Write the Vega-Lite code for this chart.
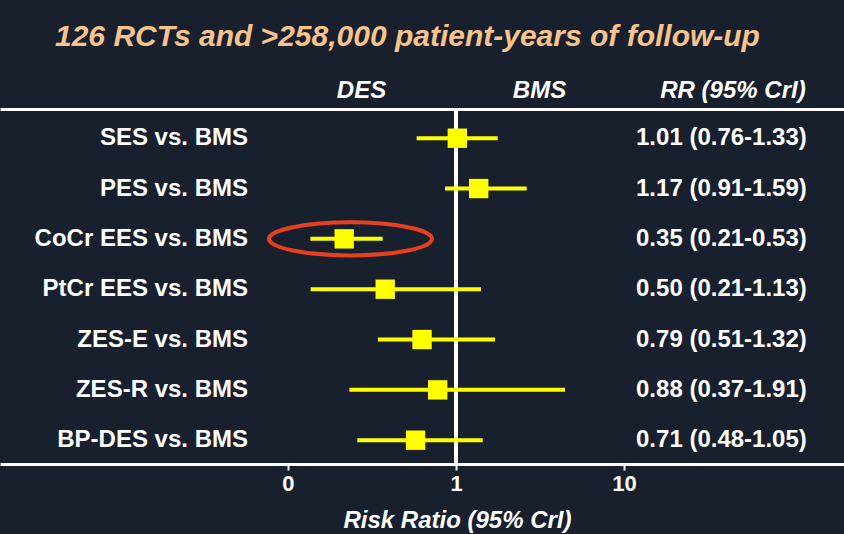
{
  "$schema": "https://vega.github.io/schema/vega-lite/v6.json",
  "width": 844,
  "height": 355,
  "autosize": {"type": "none"},
  "padding": {"top": 109, "bottom": 70, "left": 0, "right": 0},
  "background": "#18202e",
  "title": {
    "text": "126 RCTs and >258,000 patient-years of follow-up",
    "anchor": "start",
    "dx": 55,
    "offset": 26,
    "fontSize": 30,
    "fontStyle": "italic",
    "fontWeight": "bold",
    "color": "#f8c38c",
    "font": "Liberation Sans"
  },
  "config": {
    "view": {"stroke": null},
    "axis": {"grid": false},
    "axisBottom": {"labelFontSize": 22, "labelFontWeight": "bold"},
    "font": "Liberation Sans"
  },
  "data": {
    "values": [
      {"row": "SES vs. BMS", "est": 1.018, "lo": 0.583, "hi": 1.77, "rr": "1.01 (0.76-1.33)"},
      {"row": "PES vs. BMS", "est": 1.365, "lo": 0.86, "hi": 2.635, "rr": "1.17 (0.91-1.59)"},
      {"row": "CoCr EES vs. BMS", "est": 0.216, "lo": 0.136, "hi": 0.366, "rr": "0.35 (0.21-0.53)"},
      {"row": "PtCr EES vs. BMS", "est": 0.379, "lo": 0.1365, "hi": 1.409, "rr": "0.50 (0.21-1.13)"},
      {"row": "ZES-E vs. BMS", "est": 0.628, "lo": 0.343, "hi": 1.707, "rr": "0.79 (0.51-1.32)"},
      {"row": "ZES-R vs. BMS", "est": 0.778, "lo": 0.232, "hi": 4.455, "rr": "0.88 (0.37-1.91)"},
      {"row": "BP-DES vs. BMS", "est": 0.575, "lo": 0.2585, "hi": 1.442, "rr": "0.71 (0.48-1.05)"}
    ]
  },
  "resolve": {"axis": {"x": "independent"}},
  "layer": [
    {
      "mark": {"type": "rule", "color": "white", "strokeWidth": 4},
      "encoding": {
        "x": {"datum": 1, "type": "quantitative", "scale": {"type": "log", "domain": [0.001931, 203.9], "nice": false, "zero": false}, "axis": null}
      }
    },
    {
      "mark": {"type": "rule", "color": "#ffff00", "strokeWidth": 4},
      "encoding": {
        "y": {"field": "row", "type": "ordinal", "sort": null, "scale": {"type": "point", "padding": 0.5266, "align": 0.551}, "axis": null},
        "x": {
          "field": "lo", "type": "quantitative",
          "scale": {"type": "log", "domain": [0.001931, 203.9], "nice": false, "zero": false},
          "axis": {
            "orient": "bottom",
            "values": [0.1, 1, 10],
            "labelExpr": "datum.value < 0.5 ? '0' : datum.value < 5 ? '1' : '10'",
            "tickColor": "white",
            "tickWidth": 2,
            "tickSize": 6,
            "labelPadding": 20,
            "labelBaseline": "alphabetic",
            "labelFontSize": 22,
            "labelFontWeight": "bold",
            "labelColor": "white",
            "labelFlush": false,
            "labelOverlap": false,
            "domainColor": "white",
            "domainWidth": 3,
            "title": "Risk Ratio (95% CrI)",
            "titleFontSize": 24,
            "titleFontStyle": "italic",
            "titleFontWeight": "bold",
            "titleColor": "white",
            "titleX": 457,
            "titleY": 63,
            "titleBaseline": "alphabetic"
          }
        },
        "x2": {"field": "hi"}
      }
    },
    {
      "mark": {"type": "point", "shape": "square", "filled": true, "size": 375, "color": "#ffff00", "opacity": 1},
      "encoding": {
        "y": {"field": "row", "type": "ordinal", "sort": null, "axis": null},
        "x": {
          "field": "est", "type": "quantitative",
          "scale": {"type": "log", "domain": [0.001931, 203.9], "nice": false, "zero": false},
          "axis": {
            "orient": "top",
            "values": [0.272, 3.12, 44.2],
            "labelExpr": "datum.value < 1 ? 'DES' : datum.value < 10 ? 'BMS' : 'RR  (95% CrI)'",
            "ticks": false,
            "tickSize": 0,
            "labelPadding": 12,
            "labelBaseline": "alphabetic",
            "labelFontSize": 24,
            "labelFontStyle": "italic",
            "labelFontWeight": "bold",
            "labelColor": "white",
            "labelFlush": false,
            "labelOverlap": false,
            "domainColor": "white",
            "domainWidth": 3,
            "title": null
          }
        }
      }
    },
    {
      "mark": {"type": "text", "align": "right", "baseline": "middle", "fontSize": 24, "fontWeight": "bold", "color": "white"},
      "encoding": {
        "y": {"field": "row", "type": "ordinal", "sort": null, "axis": null},
        "x": {"datum": 0.05779, "type": "quantitative", "scale": {"type": "log", "domain": [0.001931, 203.9], "nice": false, "zero": false}, "axis": null},
        "text": {"field": "row"}
      }
    },
    {
      "mark": {"type": "text", "align": "left", "baseline": "middle", "fontSize": 24, "fontWeight": "bold", "color": "white"},
      "encoding": {
        "y": {"field": "row", "type": "ordinal", "sort": null, "axis": null},
        "x": {"datum": 11.79, "type": "quantitative", "scale": {"type": "log", "domain": [0.001931, 203.9], "nice": false, "zero": false}, "axis": null},
        "text": {"field": "rr"}
      }
    },
    {
      "data": {"values": [{"row": "CoCr EES vs. BMS", "center": 0.2355}]},
      "mark": {"type": "point", "shape": "M-1,0A1,0.2025,0,1,0,1,0A1,0.2025,0,1,0,-1,0Z", "filled": false, "size": 26569, "stroke": "#e6401c", "strokeWidth": 4, "opacity": 1},
      "encoding": {
        "y": {"field": "row", "type": "ordinal", "sort": null, "axis": null},
        "x": {"field": "center", "type": "quantitative", "scale": {"type": "log", "domain": [0.001931, 203.9], "nice": false, "zero": false}, "axis": null}
      }
    }
  ]
}
